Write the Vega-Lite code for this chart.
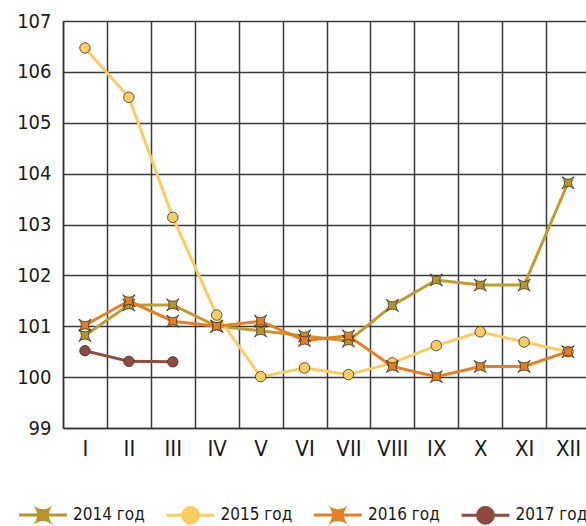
{
  "$schema": "https://vega.github.io/schema/vega-lite/v6.json",
  "width": 523,
  "height": 407,
  "autosize": "none",
  "padding": {"left": 63, "top": 21, "right": 0, "bottom": 98},
  "background": "white",
  "config": {
    "view": {"stroke": null},
    "font": "Liberation Sans Narrow, DejaVu Sans Condensed, sans-serif"
  },
  "data": {
    "values": [
      {"series": "2014 год", "month": "I", "value": 100.82},
      {"series": "2014 год", "month": "II", "value": 101.42},
      {"series": "2014 год", "month": "III", "value": 101.42},
      {"series": "2014 год", "month": "IV", "value": 101.0},
      {"series": "2014 год", "month": "V", "value": 100.91},
      {"series": "2014 год", "month": "VI", "value": 100.81},
      {"series": "2014 год", "month": "VII", "value": 100.71},
      {"series": "2014 год", "month": "VIII", "value": 101.41},
      {"series": "2014 год", "month": "IX", "value": 101.91},
      {"series": "2014 год", "month": "X", "value": 101.81},
      {"series": "2014 год", "month": "XI", "value": 101.81},
      {"series": "2014 год", "month": "XII", "value": 103.82},
      {"series": "2015 год", "month": "I", "value": 106.47},
      {"series": "2015 год", "month": "II", "value": 105.5},
      {"series": "2015 год", "month": "III", "value": 103.14},
      {"series": "2015 год", "month": "IV", "value": 101.22},
      {"series": "2015 год", "month": "V", "value": 100.01},
      {"series": "2015 год", "month": "VI", "value": 100.18},
      {"series": "2015 год", "month": "VII", "value": 100.05},
      {"series": "2015 год", "month": "VIII", "value": 100.28},
      {"series": "2015 год", "month": "IX", "value": 100.62},
      {"series": "2015 год", "month": "X", "value": 100.89},
      {"series": "2015 год", "month": "XI", "value": 100.69},
      {"series": "2015 год", "month": "XII", "value": 100.5},
      {"series": "2016 год", "month": "I", "value": 101.02},
      {"series": "2016 год", "month": "II", "value": 101.5},
      {"series": "2016 год", "month": "III", "value": 101.1},
      {"series": "2016 год", "month": "IV", "value": 101.0},
      {"series": "2016 год", "month": "V", "value": 101.1},
      {"series": "2016 год", "month": "VI", "value": 100.72},
      {"series": "2016 год", "month": "VII", "value": 100.81},
      {"series": "2016 год", "month": "VIII", "value": 100.21},
      {"series": "2016 год", "month": "IX", "value": 100.01},
      {"series": "2016 год", "month": "X", "value": 100.21},
      {"series": "2016 год", "month": "XI", "value": 100.21},
      {"series": "2016 год", "month": "XII", "value": 100.5},
      {"series": "2017 год", "month": "I", "value": 100.52},
      {"series": "2017 год", "month": "II", "value": 100.31},
      {"series": "2017 год", "month": "III", "value": 100.3}
    ]
  },
  "encoding": {
    "x": {
      "field": "month",
      "type": "nominal",
      "scale": {
        "type": "band",
        "domain": ["I", "II", "III", "IV", "V", "VI", "VII", "VIII", "IX", "X", "XI", "XII"],
        "range": [0, 527],
        "paddingInner": 0,
        "paddingOuter": 0
      },
      "axis": {
        "title": null,
        "labelAngle": 0,
        "tickBand": "extent",
        "grid": true,
        "gridColor": "#3a3a3a",
        "gridWidth": 1.5,
        "ticks": false,
        "domain": true,
        "domainColor": "#333333",
        "domainWidth": 1.5,
        "labelFontSize": 22,
        "labelPadding": 10,
        "labelColor": "#1a1a1a"
      }
    },
    "y": {
      "field": "value",
      "type": "quantitative",
      "scale": {"domain": [99, 107], "nice": false, "zero": false},
      "axis": {
        "title": null,
        "values": [99, 100, 101, 102, 103, 104, 105, 106, 107],
        "grid": true,
        "gridColor": "#3a3a3a",
        "gridWidth": 1.5,
        "ticks": false,
        "domain": true,
        "domainColor": "#333333",
        "domainWidth": 1.5,
        "labelFontSize": 20,
        "labelPadding": 12,
        "labelColor": "#1a1a1a"
      }
    }
  },
  "layer": [
    {
      "mark": {"type": "line", "strokeWidth": 3},
      "encoding": {
        "color": {
          "field": "series",
          "type": "nominal",
          "scale": {
            "domain": ["2014 год", "2015 год", "2016 год", "2017 год"],
            "range": ["#c09b2e", "#f9cd64", "#e67e22", "#914b3f"]
          },
          "legend": null
        },
        "detail": {"field": "series"}
      }
    },
    {
      "mark": {"type": "point", "filled": true, "opacity": 1, "stroke": "#3b2f22", "strokeWidth": 0.8},
      "encoding": {
        "color": {
          "field": "series",
          "type": "nominal",
          "scale": {
            "domain": ["2014 год", "2015 год", "2016 год", "2017 год"],
            "range": ["#b8952a", "#f9cd64", "#e67e22", "#8e4a3e"]
          },
          "legend": null
        },
        "shape": {
          "field": "series",
          "type": "nominal",
          "scale": {
            "domain": ["2014 год", "2015 год", "2016 год", "2017 год"],
            "range": [
              "M-1,-1Q0,-0.15 1,-1Q0.15,0 1,1Q0,0.15 -1,1Q-0.15,0 -1,-1Z",
              "circle",
              "M-1,-1Q0,-0.15 1,-1Q0.15,0 1,1Q0,0.15 -1,1Q-0.15,0 -1,-1Z",
              "circle"
            ]
          },
          "legend": null
        },
        "size": {
          "condition": {"test": "datum.series === '2015 год' || datum.series === '2017 год'", "value": 110},
          "value": 150
        }
      }
    },
    {
      "mark": {"type": "point", "filled": true, "opacity": 0},
      "encoding": {
        "color": {
          "field": "series",
          "type": "nominal",
          "scale": {
            "domain": ["2014 год", "2015 год", "2016 год", "2017 год"],
            "range": ["#b8952a", "#f9cd64", "#e67e22", "#8e4a3e"]
          },
          "legend": {
            "orient": "none",
            "legendX": -29,
            "legendY": 485,
            "direction": "horizontal",
            "title": null,
            "padding": 0,
            "symbolSize": 324,
            "symbolOpacity": 1,
            "symbolStrokeWidth": 0,
            "labelOffset": 21,
            "columnPadding": 21.5,
            "gridAlign": "all",
            "labelFontSize": 17,
            "labelColor": "#1a1a1a"
          }
        },
        "shape": {
          "field": "series",
          "type": "nominal",
          "scale": {
            "domain": ["2014 год", "2015 год", "2016 год", "2017 год"],
            "range": [
              "M-2.65,-0.17L2.65,-0.17L2.65,0.17L-2.65,0.17Z M-1.1,-1.1Q0,-0.2 1.1,-1.1Q0.2,0 1.1,1.1Q0,0.2 -1.1,1.1Q-0.2,0 -1.1,-1.1Z",
              "M-2.65,-0.17L2.65,-0.17L2.65,0.17L-2.65,0.17Z M-1.04,0A1.04,1.04 0 1,1 1.04,0A1.04,1.04 0 1,1 -1.04,0Z",
              "M-2.65,-0.17L2.65,-0.17L2.65,0.17L-2.65,0.17Z M-1.1,-1.1Q0,-0.2 1.1,-1.1Q0.2,0 1.1,1.1Q0,0.2 -1.1,1.1Q-0.2,0 -1.1,-1.1Z",
              "M-2.65,-0.17L2.65,-0.17L2.65,0.17L-2.65,0.17Z M-1.04,0A1.04,1.04 0 1,1 1.04,0A1.04,1.04 0 1,1 -1.04,0Z"
            ]
          },
          "legend": {
            "orient": "none",
            "legendX": -29,
            "legendY": 485,
            "direction": "horizontal",
            "title": null,
            "padding": 0,
            "symbolSize": 324,
            "symbolOpacity": 1,
            "symbolStrokeWidth": 0,
            "labelOffset": 21,
            "columnPadding": 21.5,
            "gridAlign": "all",
            "labelFontSize": 17,
            "labelColor": "#1a1a1a"
          }
        }
      }
    }
  ],
  "resolve": {"scale": {"color": "independent", "shape": "independent"}}
}
